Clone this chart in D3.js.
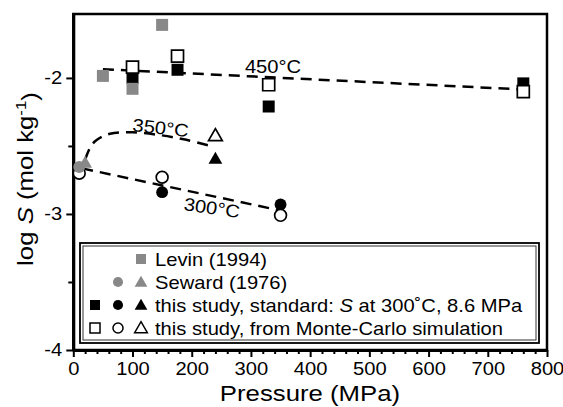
<!DOCTYPE html>
<html>
<head>
<meta charset="utf-8">
<script src="https://cdn.jsdelivr.net/npm/d3@7"></script>
<style>
  body { margin: 0; background: #fff; }
  text { font-family: "Liberation Sans", Arial, sans-serif; fill: #000; }
</style>
</head>
<body>
<svg width="563" height="407"></svg>
<script>
// data (pressure in MPa, log S in mol/kg)
var levinP = [50, 100, 150],
    levinS = [-1.985, -2.08, -1.61];
var sewardCircleP = [10], sewardCircleS = [-2.655];
var sewardTriP = [20], sewardTriS = [-2.62];
var stdSquareP = [100, 176, 330, 760],
    stdSquareS = [-2.00, -1.94, -2.21, -2.04];
var stdCircleP = [10, 150, 350],
    stdCircleS = [-2.66, -2.84, -2.93];
var stdTriP = [240], stdTriS = [-2.59];
var mcSquareP = [100, 176, 330, 760],
    mcSquareS = [-1.92, -1.84, -2.05, -2.10];
var mcCircleP = [10, 150, 350],
    mcCircleS = [-2.70, -2.73, -3.01];
var mcTriP = [240], mcTriS = [-2.42];

// dashed isotherms
var iso450 = [[50, -1.936], [760, -2.085]];
var iso350 = [[20, -2.60], [30, -2.50], [40, -2.455], [62, -2.41], [100, -2.40],
              [146, -2.42], [191, -2.455], [232, -2.50]];
var iso300 = [[15, -2.665], [350, -2.975]];

var xTicks = [0, 100, 200, 300, 400, 500, 600, 700, 800];
var yTicks = [-4, -3, -2];
var yMinorTicks = [-3.5, -2.5];

var legendRows = [
  {sym: ["gsq"], pre: "Levin (1994)"},
  {sym: ["gci", "gtr"], pre: "Seward (1976)"},
  {sym: ["fsq", "fci", "ftr"], pre: "this study, standard: ", it: "S", post: " at 300˚C, 8.6 MPa"},
  {sym: ["osq", "oci", "otr"], pre: "this study, from Monte-Carlo simulation"}
];

var svg = d3.select("svg");
var SX = 1.12; // reference glyphs are wider than Arial
var grey = "#888";

var x = d3.scaleLinear().domain([0, 800]).range([73.3, 547]),
    y = d3.scaleLinear().domain([-4, -1.53]).range([350, 14]);

// plot frame
svg.append("rect")
    .attr("x", x(0)).attr("y", y(-1.53))
    .attr("width", x(800) - x(0)).attr("height", y(-4) - y(-1.53))
    .attr("fill", "none").attr("stroke", "#000").attr("stroke-width", 2.5);

function styleAxis(a, sw) {
  a.select(".domain").attr("stroke-width", 3);
  a.selectAll(".tick line").attr("stroke-width", sw);
  a.selectAll(".tick text")
      .style("font-size", "18px")
      .attr("transform", "scale(" + SX + ",1)");
}

// x axis
var xMinor = d3.range(0, 801, 20).filter(function(d) { return d % 100 !== 0; });
var gx = svg.append("g").attr("transform", "translate(0," + y(-4) + ")")
    .call(d3.axisBottom(x).tickValues(xTicks).tickSize(7).tickPadding(5).tickSizeOuter(0));
styleAxis(gx, 2);
svg.append("g").attr("transform", "translate(0," + y(-4) + ")")
    .call(d3.axisBottom(x).tickValues(xMinor).tickSize(4).tickFormat("").tickSizeOuter(0))
    .call(function(a) { a.select(".domain").remove(); a.selectAll("line").attr("stroke-width", 2); });

// y axis
var gy = svg.append("g").attr("transform", "translate(" + x(0) + ",0)")
    .call(d3.axisLeft(y).tickValues(yTicks).tickSize(7).tickPadding(3).tickSizeOuter(0)
      .tickFormat(d3.format("d")));
styleAxis(gy, 2);
gy.selectAll(".tick text").text(function(d) { return "-" + Math.abs(d); });
svg.append("g").attr("transform", "translate(" + x(0) + ",0)")
    .call(d3.axisLeft(y).tickValues(yMinorTicks).tickSize(5).tickFormat("").tickSizeOuter(0))
    .call(function(a) { a.select(".domain").remove(); a.selectAll("line").attr("stroke-width", 2); });

// axis titles
svg.append("text")
    .attr("transform", "translate(310,401) scale(" + SX + ",1)")
    .attr("text-anchor", "middle")
    .style("font-size", "23px")
    .text("Pressure (MPa)");

var yl = svg.append("text")
    .attr("transform", "translate(33,179) rotate(-90) scale(" + SX + ",1)")
    .attr("text-anchor", "middle")
    .style("font-size", "23px");
yl.append("tspan").text("log ");
yl.append("tspan").style("font-style", "italic").text("S");
yl.append("tspan").text(" (mol kg");
yl.append("tspan").attr("dy", "-0.45em").style("font-size", "15px").text("-1");
yl.append("tspan").attr("dy", "0.45em").text(")");

// isotherm lines
var line = d3.line()
    .x(function(d) { return x(d[0]); })
    .y(function(d) { return y(d[1]); });

[iso450, iso300].forEach(function(pts) {
  svg.append("path").attr("d", line(pts))
      .attr("fill", "none").attr("stroke", "#000")
      .attr("stroke-width", 2.5).attr("stroke-dasharray", "11,7");
});
svg.append("path").attr("d", line.curve(d3.curveCatmullRom)(iso350))
    .attr("fill", "none").attr("stroke", "#000")
    .attr("stroke-width", 2.5).attr("stroke-dasharray", "11,7");

function isoLabel(px, py, rot, s) {
  svg.append("text")
      .attr("transform", "translate(" + px + "," + py + ") rotate(" + rot + ") scale(" + SX + ",1)")
      .attr("text-anchor", "middle")
      .style("font-size", "18px")
      .text(s);
}
isoLabel(273, 73, 0, "450°C");
isoLabel(160, 134, 6, "350°C");
isoLabel(211, 214, 8, "300°C");

// markers
var shapes = {
  sq: d3.symbol().type(d3.symbolSquare).size(144),
  ci: d3.symbol().type(d3.symbolCircle).size(110),
  tr: d3.symbol().type(d3.symbolTriangle).size(82)
};
var styles = {
  f: {fill: "#000", stroke: "none", sw: 0},
  o: {fill: "#fff", stroke: "#000", sw: 1.7},
  g: {fill: grey, stroke: "none", sw: 0}
};

function drawPts(P, S, key) {
  var st = styles[key[0]], sh = shapes[key.slice(1)];
  svg.append("g").selectAll("path")
    .data(P.map(function(p, i) { return [p, S[i]]; }))
    .enter().append("path")
      .attr("d", sh)
      .attr("transform", function(d) {
        var dy = key.slice(1) === "tr" ? 1.5 : 0;
        return "translate(" + x(d[0]) + "," + (y(d[1]) + dy) + ")";
      })
      .attr("fill", st.fill).attr("stroke", st.stroke).attr("stroke-width", st.sw);
}

drawPts(stdSquareP, stdSquareS, "fsq");
drawPts(mcSquareP, mcSquareS, "osq");
drawPts(stdCircleP, stdCircleS, "fci");
drawPts(mcCircleP, mcCircleS, "oci");
drawPts(stdTriP, stdTriS, "ftr");
drawPts(mcTriP, mcTriS, "otr");
drawPts(levinP, levinS, "gsq");
drawPts(sewardCircleP, sewardCircleS, "gci");
drawPts(sewardTriP, sewardTriS, "gtr");

// legend
var lg = svg.append("g");
lg.append("rect").attr("x", 80).attr("y", 243).attr("width", 459).attr("height", 100)
    .attr("fill", "#fff").attr("stroke", "#000").attr("stroke-width", 1.8);
lg.append("rect").attr("x", 83).attr("y", 246).attr("width", 453).attr("height", 94)
    .attr("fill", "none").attr("stroke", "#333").attr("stroke-width", 1);

var symX = [95, 118, 141];
var legShapes = {
  sq: d3.symbol().type(d3.symbolSquare).size(100),
  ci: d3.symbol().type(d3.symbolCircle).size(80),
  tr: d3.symbol().type(d3.symbolTriangle).size(70)
};
legendRows.forEach(function(r, i) {
  var cy = 259 + i * 23;
  r.sym.slice().reverse().forEach(function(k, j) {
    var st = styles[k[0]];
    lg.append("path")
        .attr("d", legShapes[k.slice(1)])
        .attr("transform", "translate(" + symX[2 - j] + "," + (cy + (k.slice(1) === "tr" ? 1 : 0)) + ")")
        .attr("fill", st.fill).attr("stroke", st.stroke).attr("stroke-width", st.sw ? 1.5 : 0);
  });
  var t = lg.append("text")
      .attr("transform", "translate(155," + (cy + 6.5) + ") scale(" + SX + ",1)")
      .style("font-size", "18px");
  t.append("tspan").text(r.pre);
  if (r.it) {
    t.append("tspan").style("font-style", "italic").text(r.it);
    t.append("tspan").text(r.post);
  }
});
</script>
</body>
</html>
